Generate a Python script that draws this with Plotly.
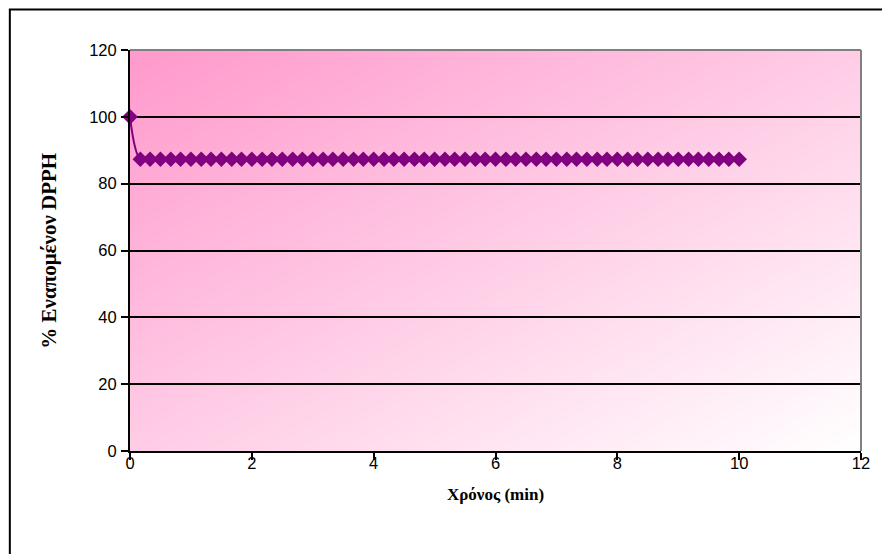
import plotly.graph_objects as go
import numpy as np
import zlib, struct, base64

# Data
time_min = [0, 0.17, 0.33, 0.5, 0.67, 0.83, 1.0, 1.17, 1.33, 1.5, 1.67, 1.83, 2.0,
            2.17, 2.33, 2.5, 2.67, 2.83, 3.0, 3.17, 3.33, 3.5, 3.67, 3.83, 4.0,
            4.17, 4.33, 4.5, 4.67, 4.83, 5.0, 5.17, 5.33, 5.5, 5.67, 5.83, 6.0,
            6.17, 6.33, 6.5, 6.67, 6.83, 7.0, 7.17, 7.33, 7.5, 7.67, 7.83, 8.0,
            8.17, 8.33, 8.5, 8.67, 8.83, 9.0, 9.17, 9.33, 9.5, 9.67, 9.83, 10.0]
dpph_remaining = [100, 87.3, 87.3, 87.3, 87.3, 87.3, 87.3, 87.3, 87.3, 87.3, 87.3,
                  87.3, 87.3, 87.3, 87.3, 87.3, 87.3, 87.3, 87.3, 87.3, 87.3,
                  87.3, 87.3, 87.3, 87.3, 87.3, 87.3, 87.3, 87.3, 87.3, 87.3,
                  87.3, 87.3, 87.3, 87.3, 87.3, 87.3, 87.3, 87.3, 87.3, 87.3,
                  87.3, 87.3, 87.3, 87.3, 87.3, 87.3, 87.3, 87.3, 87.3, 87.3,
                  87.3, 87.3, 87.3, 87.3, 87.3, 87.3, 87.3, 87.3, 87.3, 87.3]
x_ticks = [0, 2, 4, 6, 8, 10, 12]
y_ticks = [0, 20, 40, 60, 80, 100, 120]
x_title = "Χρόνος (min)"
y_title = "% Εναπομένον DPPH"

W, H = 882, 554
L, R, T, B = 130, 19, 50, 103
pw, ph = W - L - R, H - T - B


def gradient_png(w, h, c0, c1):
    """Diagonal gradient image (top-left c0 -> bottom-right c1) as a data URI."""
    u = np.linspace(0, 1, w)[None, :]
    v = np.linspace(0, 1, h)[:, None]
    t = (u + v) / 2
    img = np.zeros((h, w, 3), dtype=np.uint8)
    for k in range(3):
        img[:, :, k] = np.clip(np.round(c0[k] + (c1[k] - c0[k]) * t), 0, 255)
    raw = b"".join(b"\x00" + img[r].tobytes() for r in range(h))

    def chunk(tag, data):
        return (struct.pack(">I", len(data)) + tag + data +
                struct.pack(">I", zlib.crc32(tag + data) & 0xFFFFFFFF))

    png = (b"\x89PNG\r\n\x1a\n" +
           chunk(b"IHDR", struct.pack(">IIBBBBB", w, h, 8, 2, 0, 0, 0)) +
           chunk(b"IDAT", zlib.compress(raw, 9)) + chunk(b"IEND", b""))
    return "data:image/png;base64," + base64.b64encode(png).decode()


bg = gradient_png(pw, ph, (255, 153, 204), (255, 255, 255))

fig = go.Figure()
fig.add_trace(go.Scatter(
    x=time_min, y=dpph_remaining, mode="lines+markers",
    line=dict(color="#800080", width=2, shape="spline"),
    marker=dict(symbol="diamond", size=12, color="#800080"),
    cliponaxis=False,
    showlegend=False,
))


def px2paper_x(px):
    return (px - L) / pw


def px2paper_y(py):
    return (H - B - py) / ph


fig.update_layout(
    width=W, height=H,
    margin=dict(l=L, r=R, t=T, b=B, pad=0),
    paper_bgcolor="white", plot_bgcolor="white",
    font=dict(family="Liberation Sans, Arial", size=16.5, color="black"),
    images=[dict(source=bg, xref="paper", yref="paper", x=0, y=1, sizex=1, sizey=1,
                 xanchor="left", yanchor="top", sizing="stretch", layer="below")],
    xaxis=dict(range=[0, 12], tickvals=x_ticks, ticks="outside", ticklen=7,
               tickwidth=2, tickcolor="black", showline=True, linecolor="black",
               linewidth=2, showgrid=False, zeroline=False, ticklabelstandoff=-11),
    yaxis=dict(range=[0, 120], tickvals=y_ticks, ticks="outside", ticklen=7,
               tickwidth=2, tickcolor="black", showline=True, linecolor="black",
               linewidth=2, showgrid=True, gridcolor="black", gridwidth=2,
               zeroline=False, ticklabelstandoff=1),
    shapes=[
        dict(type="line", xref="paper", yref="paper", x0=0, x1=1, y0=1, y1=1,
             line=dict(color="#808080", width=2), layer="above"),
        dict(type="line", xref="paper", yref="paper", x0=1, x1=1, y0=0, y1=1,
             line=dict(color="#808080", width=2), layer="above"),
        dict(type="rect", xref="paper", yref="paper",
             x0=px2paper_x(9.5), x1=px2paper_x(900),
             y0=px2paper_y(580), y1=px2paper_y(9.5),
             line=dict(color="black", width=2), fillcolor="rgba(0,0,0,0)"),
    ],
    annotations=[
        dict(text=x_title, xref="paper", yref="paper", x=0.5, y=px2paper_y(494),
             showarrow=False, xanchor="center", yanchor="middle",
             font=dict(family="Liberation Serif, Times New Roman", size=17,
                       color="black", weight="bold")),
        dict(text=y_title, xref="paper", yref="paper", x=px2paper_x(48), y=0.5,
             showarrow=False, xanchor="center", yanchor="middle", textangle=-90,
             font=dict(family="Liberation Serif, Times New Roman", size=21,
                       color="black", weight="bold")),
    ],
)

fig.write_html("out.html")
